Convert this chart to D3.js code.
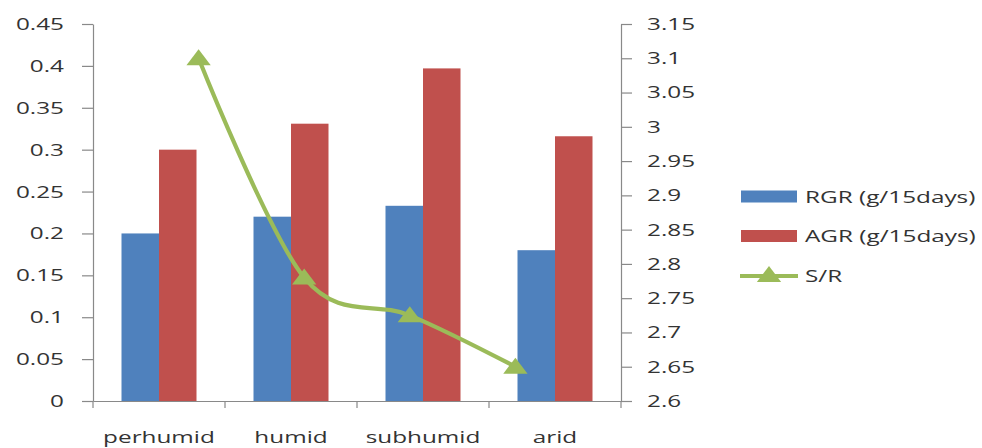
<!DOCTYPE html>
<html>
<head>
<meta charset="utf-8">
<script src="https://cdn.jsdelivr.net/npm/d3@7"></script>
<style>
  html, body { margin: 0; padding: 0; background: #fff; }
  svg { display: block; }
  text { font-family: "Open Sans", sans-serif; font-size: 17px; fill: #333; }
</style>
</head>
<body>
<svg id="chart" width="982" height="448"></svg>
<script>
// Growth indices by climatic zone
const categories = ["perhumid", "humid", "subhumid", "arid"];
const rgr = [0.20, 0.22, 0.233, 0.18];
const agr = [0.30, 0.331, 0.397, 0.316];
const sr  = [3.10, 2.78, 2.725, 2.65];
const leftTicks  = [0, 0.05, 0.1, 0.15, 0.2, 0.25, 0.3, 0.35, 0.4, 0.45];
const rightTicks = [2.6, 2.65, 2.7, 2.75, 2.8, 2.85, 2.9, 2.95, 3, 3.05, 3.1, 3.15];
const seriesNames = ["RGR (g/15days)", "AGR (g/15days)", "S/R"];

const colors = { rgr: "#4F81BD", agr: "#C0504D", sr: "#9BBB59" };
const axisColor = "#898989";
const SX = 1.43; // horizontal text stretch

const svg = d3.select("#chart");
const plotLeft = 93, plotRight = 621, plotTop = 24, plotBottom = 401;

const x = d3.scaleBand().domain(categories).range([plotLeft, plotRight]).padding(0);
const xSub = d3.scaleBand().domain(["rgr", "agr"]).range([0, x.bandwidth()])
  .paddingInner(0).paddingOuter(0.76);
const xLine = d3.scalePoint().domain(categories).range([plotLeft, plotRight]).padding(1);
const yL = d3.scaleLinear().domain([0, 0.45]).range([plotBottom, plotTop]);
const yR = d3.scaleLinear().domain([2.6, 3.15]).range([plotBottom, plotTop]);

const fmt = v => String(+v.toFixed(2));

// Bars
const groups = svg.append("g").selectAll("g").data(categories).join("g")
  .attr("transform", d => `translate(${x(d)},0)`);
groups.append("rect")
  .attr("x", xSub("rgr")).attr("width", xSub.bandwidth())
  .attr("y", (d, i) => yL(rgr[i])).attr("height", (d, i) => plotBottom - yL(rgr[i]))
  .attr("fill", colors.rgr);
groups.append("rect")
  .attr("x", xSub("agr")).attr("width", xSub.bandwidth())
  .attr("y", (d, i) => yL(agr[i])).attr("height", (d, i) => plotBottom - yL(agr[i]))
  .attr("fill", colors.agr);

// Left axis
const gL = svg.append("g").attr("transform", `translate(${plotLeft},0)`)
  .call(d3.axisLeft(yL).tickValues(leftTicks).tickFormat(fmt).tickSize(11).tickSizeOuter(0));
gL.selectAll("text").attr("x", 0).attr("transform", `translate(-29,0) scale(${SX},1)`);

// Right axis
const gR = svg.append("g").attr("transform", `translate(${plotRight},0)`)
  .call(d3.axisRight(yR).tickValues(rightTicks).tickFormat(fmt).tickSize(11).tickSizeOuter(0));
gR.selectAll("text").attr("x", 0).attr("transform", `translate(26,0) scale(${SX},1)`);

// Bottom axis: centred labels plus ticks at the category boundaries
const gB = svg.append("g").attr("transform", `translate(0,${plotBottom})`)
  .call(d3.axisBottom(x).tickSize(0).tickSizeOuter(0));
gB.selectAll(".tick text").attr("x", 0).attr("y", 0).attr("dy", 0)
  .attr("transform", `translate(0,41.5) scale(${SX},1)`);
const bounds = categories.map(c => x(c)).concat([x.range()[1]]);
gB.selectAll("line.bound").data(bounds).join("line").attr("class", "bound")
  .attr("x1", d => d).attr("x2", d => d).attr("y1", 0).attr("y2", 7)
  .attr("stroke", axisColor).attr("stroke-width", 1.2);

svg.selectAll(".domain, .tick line").attr("stroke", axisColor).attr("stroke-width", 1.2);
svg.selectAll(".tick text").style("font-size", "17px").style("fill", "#333")
  .style("font-family", "'Open Sans', sans-serif");

// S/R line with triangle markers
const line = d3.line().x((d, i) => xLine(categories[i])).y(d => yR(d))
  .curve(d3.curveCardinal.tension(0));
svg.append("path").datum(sr).attr("d", line)
  .attr("fill", "none").attr("stroke", colors.sr).attr("stroke-width", 4.2)
  .attr("stroke-linejoin", "round");

const tri = "M0,-9 L9,7 L-9,7 Z";
svg.append("g").selectAll("path").data(sr).join("path")
  .attr("d", tri)
  .attr("transform", (d, i) => `translate(${xLine(categories[i])},${yR(d)}) scale(1.35,1)`)
  .attr("fill", colors.sr);

// Legend
const legend = svg.append("g");
const ly = [196.5, 236, 276];
legend.append("rect").attr("x", 741).attr("y", ly[0] - 6).attr("width", 56).attr("height", 12)
  .attr("fill", colors.rgr);
legend.append("rect").attr("x", 741).attr("y", ly[1] - 6).attr("width", 56).attr("height", 12)
  .attr("fill", colors.agr);
legend.append("line").attr("x1", 740).attr("x2", 798).attr("y1", ly[2]).attr("y2", ly[2])
  .attr("stroke", colors.sr).attr("stroke-width", 4.2);
legend.append("path").attr("d", tri)
  .attr("transform", `translate(769,${ly[2] - 1}) scale(1.35,1)`).attr("fill", colors.sr);
legend.selectAll("text").data(seriesNames).join("text")
  .attr("transform", (d, i) => `translate(805,${ly[i]}) scale(${SX},1)`)
  .attr("dy", "0.36em")
  .text(d => d);
</script>
</body>
</html>
